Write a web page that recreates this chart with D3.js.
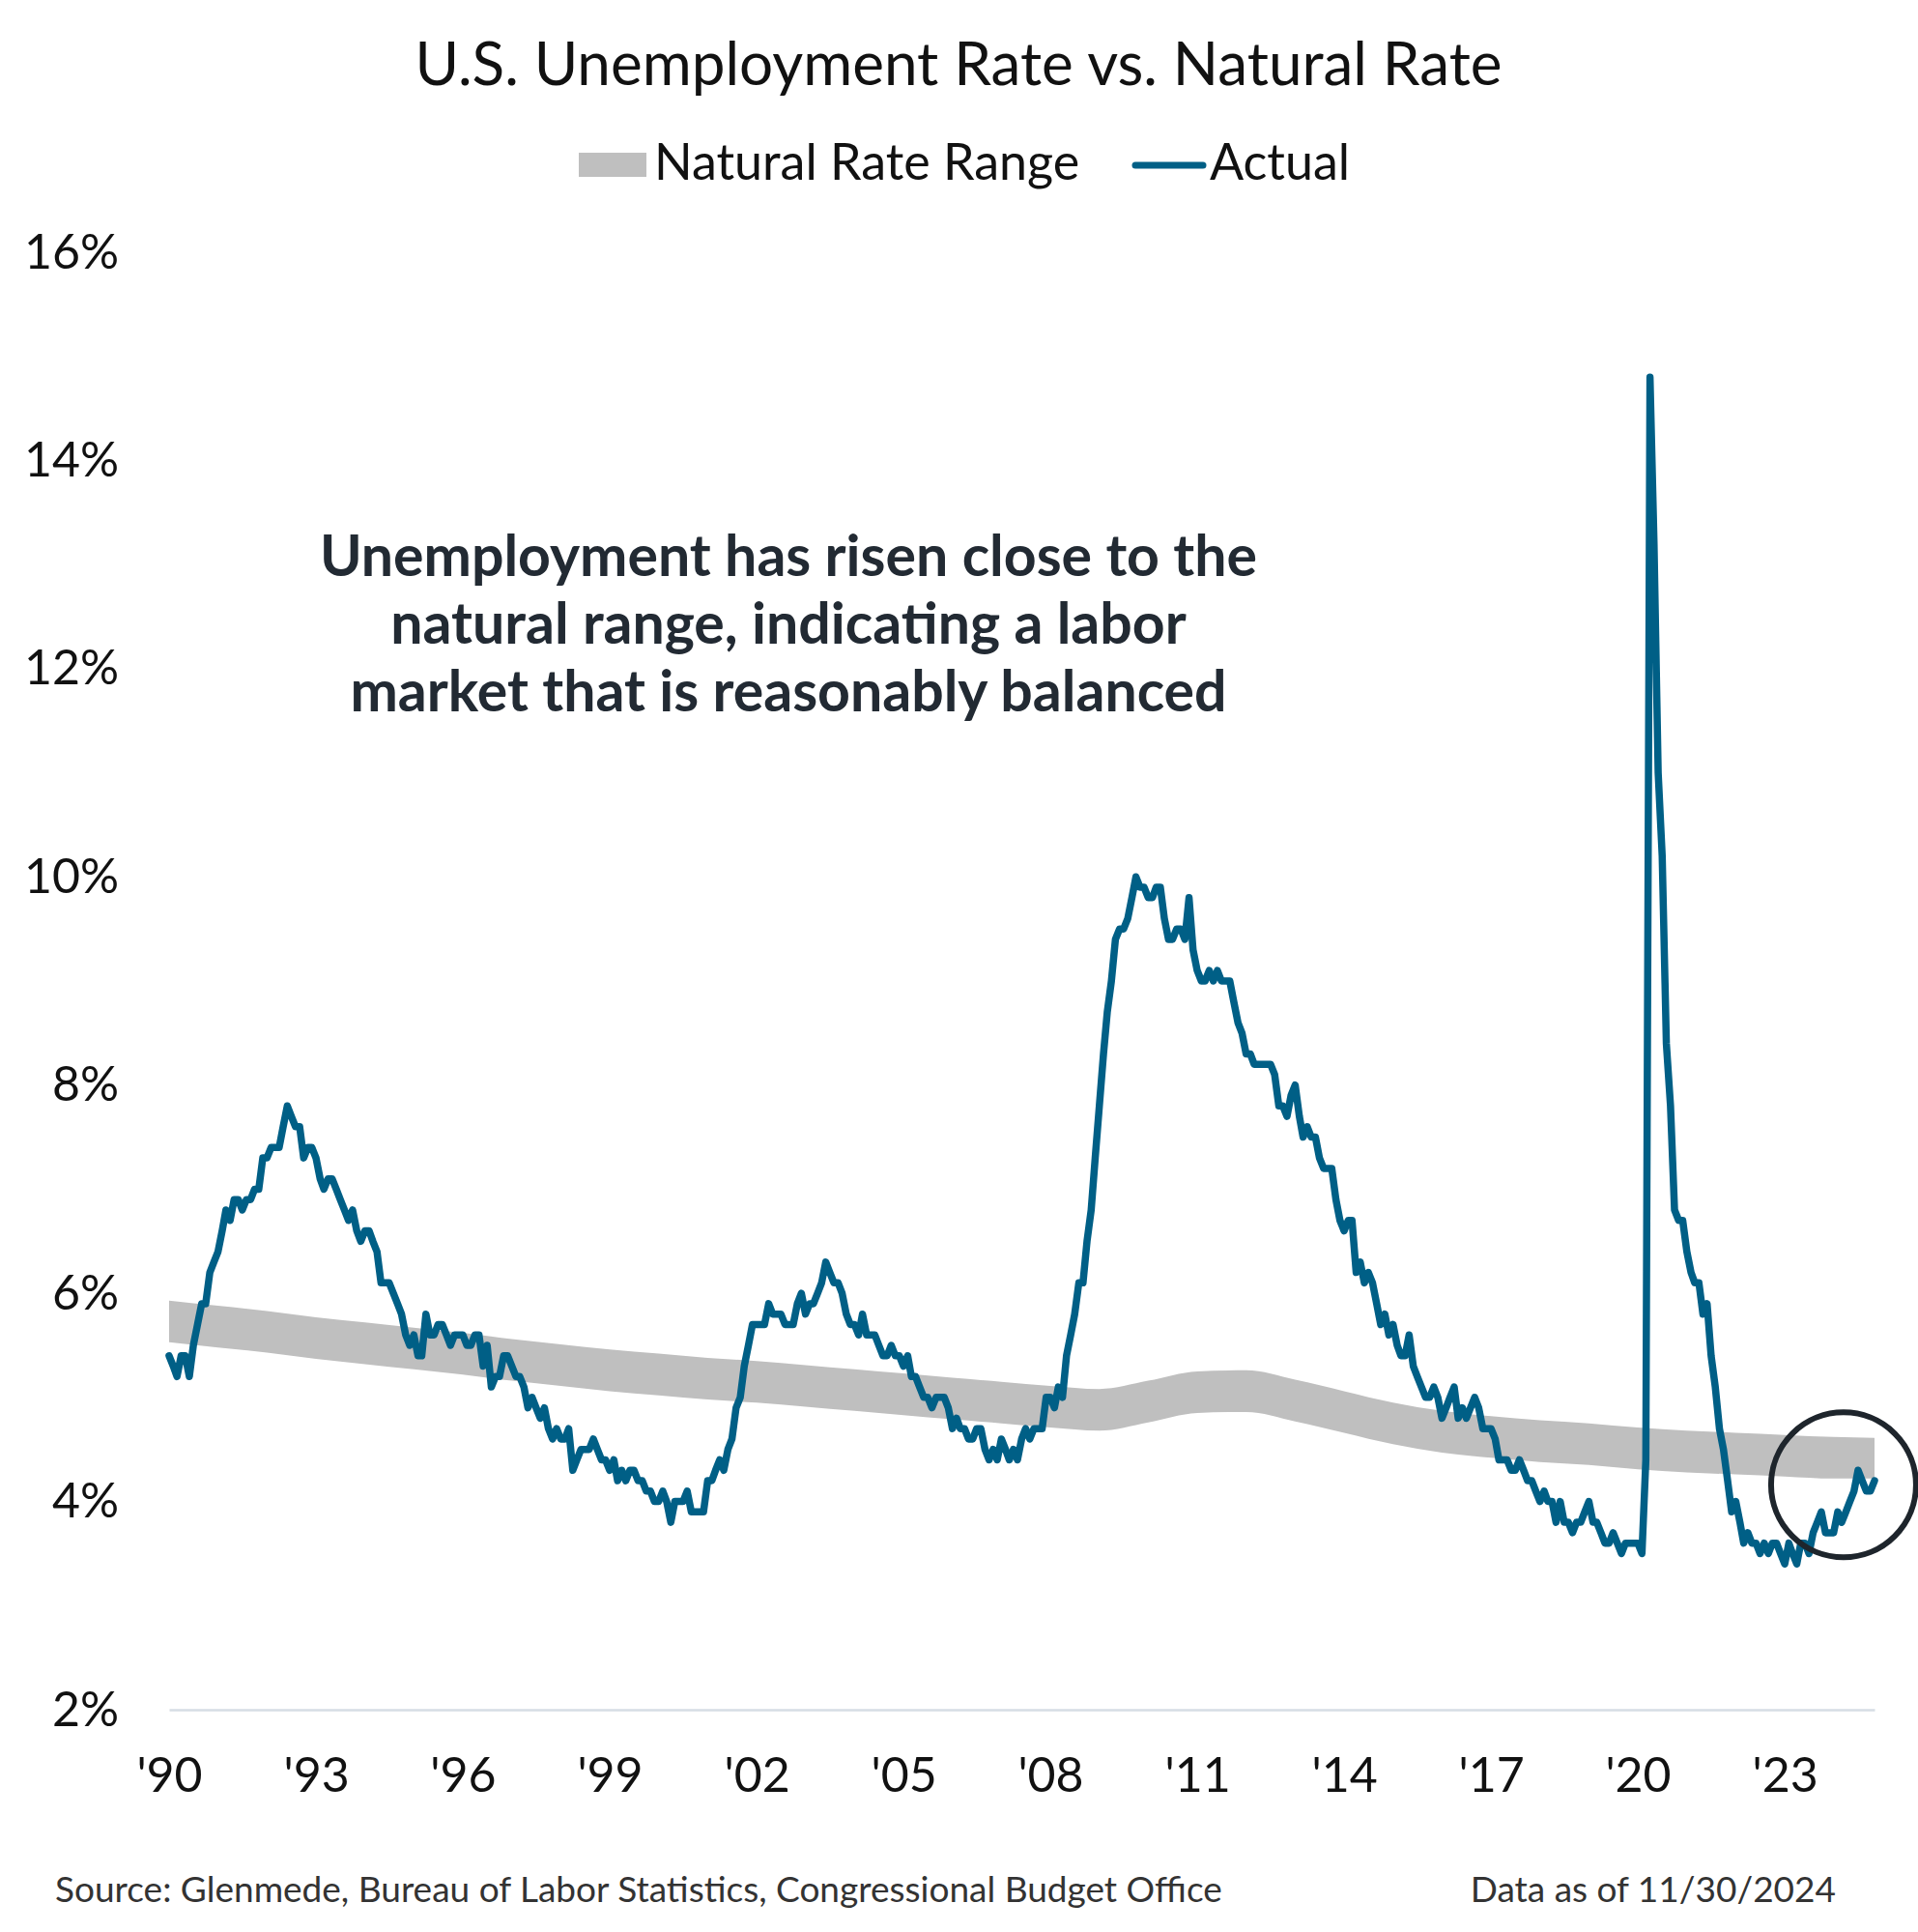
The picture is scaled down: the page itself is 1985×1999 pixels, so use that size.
<!DOCTYPE html>
<html><head><meta charset="utf-8">
<script src="https://cdn.jsdelivr.net/npm/d3@7"></script>
<style>body{margin:0;background:#fff} svg text{font-family:Lato, "Open Sans", sans-serif}</style>
</head><body>
<svg id="chart" width="1985" height="1999"></svg>
<script>
// ---- DATA ----
const startMonth = "1990-01";
// Monthly U.S. unemployment rate (%), Jan 1990 .. Nov 2024
const actualRate = [
5.4,5.3,5.2,5.4,5.4,5.2,5.5,5.7,5.9,5.9,6.2,6.3,
6.4,6.6,6.8,6.7,6.9,6.9,6.8,6.9,6.9,7.0,7.0,7.3,
7.3,7.4,7.4,7.4,7.6,7.8,7.7,7.6,7.6,7.3,7.4,7.4,
7.3,7.1,7.0,7.1,7.1,7.0,6.9,6.8,6.7,6.8,6.6,6.5,
6.6,6.6,6.5,6.4,6.1,6.1,6.1,6.0,5.9,5.8,5.6,5.5,
5.6,5.4,5.4,5.8,5.6,5.6,5.7,5.7,5.6,5.5,5.6,5.6,
5.6,5.5,5.5,5.6,5.6,5.3,5.5,5.1,5.2,5.2,5.4,5.4,
5.3,5.2,5.2,5.1,4.9,5.0,4.9,4.8,4.9,4.7,4.6,4.7,
4.6,4.6,4.7,4.3,4.4,4.5,4.5,4.5,4.6,4.5,4.4,4.4,
4.3,4.4,4.2,4.3,4.2,4.3,4.3,4.2,4.2,4.1,4.1,4.0,
4.0,4.1,4.0,3.8,4.0,4.0,4.0,4.1,3.9,3.9,3.9,3.9,
4.2,4.2,4.3,4.4,4.3,4.5,4.6,4.9,5.0,5.3,5.5,5.7,
5.7,5.7,5.7,5.9,5.8,5.8,5.8,5.7,5.7,5.7,5.9,6.0,
5.8,5.9,5.9,6.0,6.1,6.3,6.2,6.1,6.1,6.0,5.8,5.7,
5.7,5.6,5.8,5.6,5.6,5.6,5.5,5.4,5.4,5.5,5.4,5.4,
5.3,5.4,5.2,5.2,5.1,5.0,5.0,4.9,5.0,5.0,5.0,4.9,
4.7,4.8,4.7,4.7,4.6,4.6,4.7,4.7,4.5,4.4,4.5,4.4,
4.6,4.5,4.4,4.5,4.4,4.6,4.7,4.6,4.7,4.7,4.7,5.0,
5.0,4.9,5.1,5.0,5.4,5.6,5.8,6.1,6.1,6.5,6.8,7.3,
7.8,8.3,8.7,9.0,9.4,9.5,9.5,9.6,9.8,10.0,9.9,9.9,
9.8,9.8,9.9,9.9,9.6,9.4,9.4,9.5,9.5,9.4,9.8,9.3,
9.1,9.0,9.0,9.1,9.0,9.1,9.0,9.0,9.0,8.8,8.6,8.5,
8.3,8.3,8.2,8.2,8.2,8.2,8.2,8.1,7.8,7.8,7.7,7.9,
8.0,7.7,7.5,7.6,7.5,7.5,7.3,7.2,7.2,7.2,6.9,6.7,
6.6,6.7,6.7,6.2,6.3,6.1,6.2,6.1,5.9,5.7,5.8,5.6,
5.7,5.5,5.4,5.4,5.6,5.3,5.2,5.1,5.0,5.0,5.1,5.0,
4.8,4.9,5.0,5.1,4.8,4.9,4.8,4.9,5.0,4.9,4.7,4.7,
4.7,4.6,4.4,4.4,4.4,4.3,4.3,4.4,4.3,4.2,4.2,4.1,
4.0,4.1,4.0,4.0,3.8,4.0,3.8,3.8,3.7,3.8,3.8,3.9,
4.0,3.8,3.8,3.7,3.6,3.6,3.7,3.6,3.5,3.6,3.6,3.6,
3.6,3.5,4.4,14.8,13.2,11.0,10.2,8.4,7.8,6.8,6.7,6.7,
6.4,6.2,6.1,6.1,5.8,5.9,5.4,5.1,4.7,4.5,4.2,3.9,
4.0,3.8,3.6,3.7,3.6,3.6,3.5,3.6,3.5,3.6,3.6,3.5,
3.4,3.6,3.5,3.4,3.6,3.6,3.5,3.7,3.8,3.9,3.7,3.7,
3.7,3.9,3.8,3.9,4.0,4.1,4.3,4.2,4.1,4.1,4.2
];
// Natural rate range (CBO)
const naturalDates = ["1990-01","1991-01","1992-01","1993-01","1994-01","1995-01","1996-01","1997-01","1998-01","1999-01",
  "2000-01","2001-01","2002-01","2003-01","2004-01","2005-01","2006-01","2007-01","2008-01","2009-01",
  "2010-01","2011-01","2012-01","2013-01","2014-01","2015-01","2016-01","2017-01","2018-01","2019-01",
  "2020-01","2021-01","2022-01","2023-01","2024-01","2024-11"];
const naturalHigh = [5.93,5.88,5.83,5.77,5.72,5.67,5.62,5.56,5.51,5.46,
  5.42,5.38,5.35,5.31,5.27,5.23,5.19,5.15,5.11,5.08,
  5.16,5.25,5.26,5.17,5.06,4.95,4.87,4.82,4.78,4.75,
  4.71,4.68,4.66,4.64,4.62,4.61];
const naturalLow = [5.53,5.48,5.43,5.37,5.32,5.27,5.22,5.16,5.11,5.06,
  5.02,4.98,4.95,4.91,4.87,4.83,4.79,4.75,4.71,4.68,
  4.76,4.85,4.86,4.77,4.66,4.55,4.47,4.42,4.38,4.35,
  4.31,4.28,4.26,4.24,4.22,4.22];
const xTickYears = [1990,1993,1996,1999,2002,2005,2008,2011,2014,2017,2020,2023];
const xTickLabels = ["'90","'93","'96","'99","'02","'05","'08","'11","'14","'17","'20","'23"];
const yTicks = [2,4,6,8,10,12,14,16];
const highlight = {date: "2024-03-15", value: 4.16};

// ---- CHART ----
const svg = d3.select("#chart");
svg.append("rect").attr("width",1985).attr("height",1999).attr("fill","#fff");
const parseM = d3.timeParse("%Y-%m");
const t0 = parseM(startMonth);
const actual = actualRate.map((v,i)=>({date:d3.timeMonth.offset(t0,i), value:v}));
const band = naturalDates.map((d,i)=>({date:parseM(d), lo:naturalLow[i], hi:naturalHigh[i]}));

const x = d3.scaleTime().domain([t0, actual[actual.length-1].date]).range([175,1940]);
const y = d3.scaleLinear().domain([2,16]).range([1769,261]);

// band
svg.append("path").datum(band)
  .attr("fill","#bfbfbf")
  .attr("d", d3.area().x(d=>x(d.date)).y0(d=>y(d.lo)).y1(d=>y(d.hi)).curve(d3.curveMonotoneX));

// x axis
const xAxis = svg.append("g").attr("transform","translate(0,1769)")
  .call(d3.axisBottom(x).tickValues(xTickYears.map(yr=>new Date(yr,0,1)))
    .tickFormat((d,i)=>xTickLabels[i]).tickSize(0).tickPadding(49));
xAxis.select(".domain").attr("stroke","#d6dde4").attr("stroke-width",2.5);
xAxis.selectAll("text").attr("font-size",50).attr("fill","#111").attr("font-family","Lato");

// y axis
const yAxis = svg.append("g").attr("transform","translate(123,0)")
  .call(d3.axisLeft(y).tickValues(yTicks).tickFormat(d=>d+"%").tickSize(0).tickPadding(0));
yAxis.select(".domain").remove();
yAxis.selectAll("text").attr("font-size",50).attr("fill","#111").attr("font-family","Lato");

// actual line
svg.append("path").datum(actual)
  .attr("fill","none").attr("stroke","#005f86").attr("stroke-width",7.5)
  .attr("stroke-linejoin","round").attr("stroke-linecap","round")
  .attr("d", d3.line().x(d=>x(d.date)).y(d=>y(d.value)));

// highlight circle
svg.append("circle")
  .attr("cx", x(d3.timeParse("%Y-%m-%d")(highlight.date))).attr("cy", y(highlight.value))
  .attr("r",75).attr("fill","none").attr("stroke","#1e252c").attr("stroke-width",6);

// title
svg.append("text").attr("x",992).attr("y",88).attr("text-anchor","middle")
  .attr("font-size",62).attr("fill","#111").text("U.S. Unemployment Rate vs. Natural Rate");

// legend
svg.append("rect").attr("x",599).attr("y",158).attr("width",70).attr("height",25).attr("fill","#bfbfbf");
svg.append("text").attr("x",677).attr("y",186).attr("font-size",52).attr("fill","#111").text("Natural Rate Range");
svg.append("line").attr("x1",1175).attr("x2",1245).attr("y1",171).attr("y2",171)
  .attr("stroke","#005f86").attr("stroke-width",7).attr("stroke-linecap","round");
svg.append("text").attr("x",1252).attr("y",186).attr("font-size",52).attr("fill","#111").text("Actual");

// annotation
const ann = svg.append("text").attr("text-anchor","middle").attr("font-size",59)
  .attr("font-weight","bold").attr("fill","#222a33");
["Unemployment has risen close to the","natural range, indicating a labor","market that is reasonably balanced"]
  .forEach((s,i)=>ann.append("tspan").attr("x",816).attr("y",596+i*70).text(s));

// footer
svg.append("text").attr("x",57).attr("y",1968).attr("font-size",37).attr("fill","#333")
  .text("Source: Glenmede, Bureau of Labor Statistics, Congressional Budget Office");
svg.append("text").attr("x",1900).attr("y",1968).attr("text-anchor","end").attr("font-size",37).attr("fill","#333")
  .text("Data as of 11/30/2024");
</script>
</body></html>
